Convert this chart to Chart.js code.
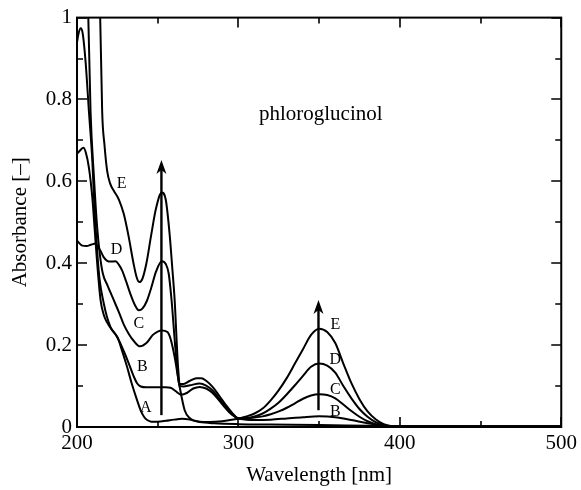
<!DOCTYPE html>
<html>
<head>
<meta charset="utf-8">
<script src="https://cdn.jsdelivr.net/npm/chart.js@4.4.1/dist/chart.umd.min.js"></script>
<style>
  html, body { margin: 0; padding: 0; background: #fff; }
</style>
</head>
<body>
<canvas id="spectra" width="581" height="490"></canvas>
<script>
// spectra (wavelength in nm, absorbance)
const wlA = [200, 202, 204, 205.5, 207.4, 209.5, 211, 212.5, 214.6, 216.5, 218.7, 222, 225, 228, 231, 234, 237, 239.5, 241.5, 243.5, 246, 250, 255, 260, 265, 270, 276, 285, 300, 320, 350, 380, 400, 450, 500]
const absA = [0.667, 0.676, 0.682, 0.67, 0.633, 0.56, 0.48, 0.40, 0.31, 0.275, 0.255, 0.235, 0.22, 0.185, 0.147, 0.105, 0.068, 0.04, 0.025, 0.017, 0.013, 0.013, 0.015, 0.018, 0.02, 0.018, 0.012, 0.009, 0.007, 0.006, 0.005, 0.003, 0.002, 0.001, 0.001]

const wlB = [200, 201, 202.3, 203.5, 205.3, 207.4, 209.5, 210.9, 212.5, 214, 216.7, 218.5, 220.8, 223.5, 225.9, 229, 232.1, 235, 237.2, 239.5, 243, 250, 255, 258, 261, 264.5, 268, 272, 276, 280, 284, 288, 292, 296, 300, 305, 310, 320, 330, 340, 350, 360, 370, 380, 390, 400, 450, 500]
const absB = [0.94, 0.962, 0.974, 0.962, 0.893, 0.77, 0.65, 0.53, 0.43, 0.36, 0.30, 0.27, 0.244, 0.228, 0.212, 0.185, 0.155, 0.125, 0.107, 0.099, 0.097, 0.097, 0.097, 0.096, 0.088, 0.079, 0.083, 0.094, 0.098, 0.094, 0.083, 0.065, 0.046, 0.03, 0.021, 0.018, 0.017, 0.018, 0.021, 0.024, 0.026, 0.024, 0.017, 0.009, 0.003, 0.001, 0.001, 0.001]

const wlC = [204.8, 207, 208.4, 210.5, 212.5, 214.2, 216, 219, 222, 226, 229, 232, 235.2, 239, 243, 247, 250, 252.5, 256, 258, 260.5, 263.6, 266.7, 269.8, 276, 282, 290, 300, 305, 310, 315, 320, 325, 330, 335, 340, 345, 350, 355, 360, 365, 370, 375, 380, 385, 390, 400, 450, 500]
const absC = [1.5, 1.0, 0.77, 0.61, 0.487, 0.42, 0.375, 0.345, 0.317, 0.28, 0.25, 0.228, 0.21, 0.197, 0.205, 0.225, 0.233, 0.236, 0.232, 0.215, 0.171, 0.098, 0.041, 0.022, 0.013, 0.012, 0.014, 0.02, 0.021, 0.023, 0.026, 0.031, 0.038, 0.047, 0.058, 0.069, 0.077, 0.08, 0.078, 0.07, 0.055, 0.039, 0.025, 0.014, 0.007, 0.003, 0.001, 0.001, 0.001]

const wlD = [200, 203.3, 206, 208.5, 211.5, 213, 214.6, 216.5, 218.7, 221, 223.9, 226, 228, 230.5, 233, 236, 238.3, 240.5, 243.4, 246, 249, 252.5, 255, 256.8, 258.6, 261, 263.5, 266, 270, 276, 280, 284, 288, 292, 296, 300, 305, 310, 315, 320, 325, 330, 335, 340, 345, 350, 355, 360, 365, 370, 375, 380, 385, 390, 395, 400, 450, 500]
const absD = [0.455, 0.443, 0.442, 0.445, 0.448, 0.44, 0.43, 0.415, 0.406, 0.404, 0.405, 0.396, 0.382, 0.355, 0.326, 0.297, 0.285, 0.289, 0.309, 0.34, 0.38, 0.405, 0.398, 0.375, 0.309, 0.19, 0.1, 0.099, 0.102, 0.106, 0.101, 0.089, 0.07, 0.05, 0.032, 0.021, 0.022, 0.026, 0.033, 0.045, 0.06, 0.08, 0.102, 0.125, 0.147, 0.155, 0.15, 0.133, 0.1, 0.07, 0.044, 0.025, 0.012, 0.005, 0.001, 0.001, 0.001, 0.001]

const wlE = [212.6, 215.6, 217, 218.7, 220.5, 222.8, 226, 229, 232, 235, 237, 238.5, 240.5, 243, 246, 249, 252.5, 255, 257.4, 259, 260.5, 262.6, 264, 266, 270, 274, 277, 280, 284, 288, 292, 296, 300, 305, 310, 315, 320, 325, 330, 335, 340, 345, 350, 355, 360, 365, 370, 375, 380, 385, 390, 395, 400, 450, 500]
const absE = [1.35, 0.77, 0.69, 0.625, 0.595, 0.577, 0.555, 0.52, 0.465, 0.40, 0.365, 0.354, 0.362, 0.40, 0.47, 0.535, 0.573, 0.555, 0.47, 0.39, 0.31, 0.147, 0.105, 0.105, 0.113, 0.119, 0.119, 0.113, 0.098, 0.077, 0.055, 0.035, 0.021, 0.026, 0.033, 0.045, 0.065, 0.09, 0.12, 0.155, 0.19, 0.225, 0.24, 0.232, 0.205, 0.155, 0.107, 0.068, 0.038, 0.019, 0.007, 0.002, 0.001, 0.001, 0.001]

const curveNames = ['A', 'B', 'C', 'D', 'E']
const curveWl = [wlA, wlB, wlC, wlD, wlE]
const curveAbs = [absA, absB, absC, absD, absE]

// tick values
const xMajor = [200, 300, 400, 500]
const xMinor = [250, 350, 450]
const yMajor = [0, 0.2, 0.4, 0.6, 0.8, 1]
const yMinor = [0.1, 0.3, 0.5, 0.7, 0.9]

// curve letters near the 250 nm band and the 350 nm band
const leftLabelWl = [242.6, 240.5, 238.3, 224.5, 227.6]
const leftLabelAbs = [0.048, 0.148, 0.253, 0.433, 0.593]
const rightLabelNames = ['B', 'C', 'D', 'E']
const rightLabelWl = [360, 360, 360, 360]
const rightLabelAbs = [0.037, 0.09, 0.165, 0.25]

// growth arrows
const arrowWl = [252.3, 349.6]
const arrowFrom = [0.029, 0.041]
const arrowTo = [0.652, 0.31]

const serif = "'Liberation Serif', 'Times New Roman', serif"

const decor = {
  id: 'decor',
  afterDatasetsDraw(chart) {
    const { ctx, chartArea: a, scales: { x, y } } = chart
    ctx.save()
    ctx.strokeStyle = '#000'
    ctx.fillStyle = '#000'

    // inward ticks on all four sides
    ctx.lineWidth = 1.6
    const xTicks = (vals, len) => vals.forEach(v => {
      const p = Math.round(x.getPixelForValue(v))
      ctx.beginPath()
      ctx.moveTo(p, a.bottom); ctx.lineTo(p, a.bottom - len)
      ctx.moveTo(p, a.top); ctx.lineTo(p, a.top + len)
      ctx.stroke()
    })
    const yTicks = (vals, len) => vals.forEach(v => {
      const p = Math.round(y.getPixelForValue(v))
      ctx.beginPath()
      ctx.moveTo(a.left, p); ctx.lineTo(a.left + len, p)
      ctx.moveTo(a.right, p); ctx.lineTo(a.right - len, p)
      ctx.stroke()
    })
    xTicks(xMajor, 10); xTicks(xMinor, 6)
    yTicks(yMajor, 10); yTicks(yMinor, 6)

    // frame
    ctx.lineWidth = 2
    ctx.strokeRect(a.left, a.top, a.right - a.left, a.bottom - a.top)

    // arrows
    arrowWl.forEach((wl, i) => {
      const px = x.getPixelForValue(wl)
      const pb = y.getPixelForValue(arrowFrom[i])
      const pt = y.getPixelForValue(arrowTo[i])
      ctx.lineWidth = 2.4
      ctx.beginPath(); ctx.moveTo(px, pb); ctx.lineTo(px, pt + 8); ctx.stroke()
      ctx.beginPath()
      ctx.moveTo(px, pt)
      ctx.lineTo(px - 5, pt + 14)
      ctx.lineTo(px, pt + 10)
      ctx.lineTo(px + 5, pt + 14)
      ctx.closePath()
      ctx.fill()
    })

    // letters
    ctx.font = '16px ' + serif
    ctx.textAlign = 'center'
    ctx.textBaseline = 'middle'
    curveNames.forEach((n, i) => {
      ctx.fillText(n, x.getPixelForValue(leftLabelWl[i]), y.getPixelForValue(leftLabelAbs[i]))
    })
    rightLabelNames.forEach((n, i) => {
      ctx.fillText(n, x.getPixelForValue(rightLabelWl[i]), y.getPixelForValue(rightLabelAbs[i]))
    })

    ctx.font = '21px ' + serif
    ctx.fillText('phloroglucinol', x.getPixelForValue(351), y.getPixelForValue(0.764))
    ctx.restore()
  }
}

new Chart(document.getElementById('spectra'), {
  type: 'line',
  data: {
    datasets: curveNames.map((n, i) => ({
      label: n,
      data: curveWl[i].map((w, j) => ({ x: w, y: curveAbs[i][j] })),
      borderColor: '#000',
      borderWidth: 2,
      pointRadius: 0,
      fill: false,
      cubicInterpolationMode: 'monotone'
    }))
  },
  options: {
    responsive: false,
    animation: false,
    devicePixelRatio: 1,
    layout: { padding: { top: 16, right: 18, bottom: 0, left: 0 } },
    plugins: { legend: { display: false }, tooltip: { enabled: false } },
    scales: {
      x: {
        type: 'linear',
        min: 200,
        max: 500,
        grid: { display: false, drawTicks: false },
        border: { display: false },
        ticks: { stepSize: 100, color: '#000', padding: 4, font: { family: serif, size: 21 } },
        title: { display: true, text: 'Wavelength [nm]', color: '#000', padding: { top: 0, bottom: 2 }, font: { family: serif, size: 21 } },
        afterFit: s => { s.height = 63 }
      },
      y: {
        min: 0,
        max: 1,
        grid: { display: false, drawTicks: false },
        border: { display: false },
        ticks: { stepSize: 0.2, color: '#000', padding: 5, font: { family: serif, size: 21 }, callback: v => String(+v.toFixed(1)) },
        title: { display: true, text: 'Absorbance [–]', color: '#000', padding: { top: 8, bottom: 0 }, font: { family: serif, size: 21 } },
        afterFit: s => { s.width = 77 }
      }
    }
  },
  plugins: [decor]
})
</script>
</body>
</html>
